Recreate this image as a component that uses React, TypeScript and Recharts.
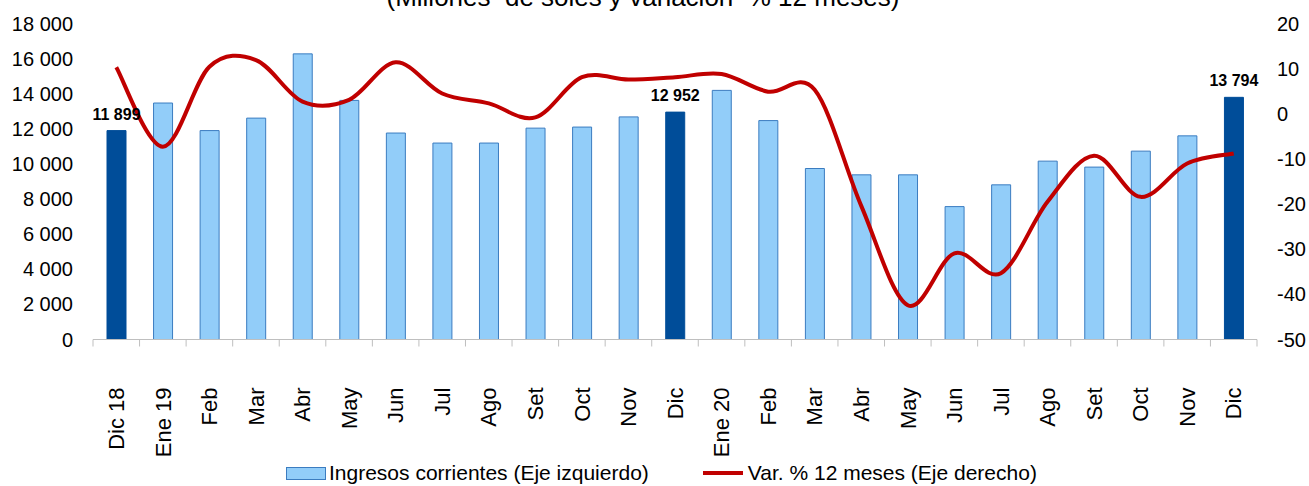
import React from 'react';
import {
  ComposedChart,
  Bar,
  Line,
  XAxis,
  YAxis,
  Cell,
  LabelList,
} from 'recharts';

// Monthly categories
const months = [
  'Dic 18', 'Ene 19', 'Feb', 'Mar', 'Abr', 'May', 'Jun', 'Jul', 'Ago', 'Set', 'Oct', 'Nov', 'Dic',
  'Ene 20', 'Feb', 'Mar', 'Abr', 'May', 'Jun', 'Jul', 'Ago', 'Set', 'Oct', 'Nov', 'Dic',
];

// Ingresos corrientes (millones de soles)
const ingresos = [
  11899, 13470, 11900, 12610, 16270, 13620, 11760, 11190, 11190, 12040, 12100, 12680, 12952,
  14190, 12470, 9740, 9380, 9380, 7570, 8810, 10160, 9820, 10730, 11600, 13794,
];

// Var. % 12 meses
const variacion = [
  10.3, -7.3, 10.4, 11.9, 2.7, 3.1, 11.4, 4.5, 2.3, -0.8, 8.1, 7.6, 8.1,
  8.8, 4.9, 5.3, -20.4, -42.4, -30.9, -35.3, -19.5, -9.3, -18.4, -11.0, -8.8,
];

// bars highlighted in dark blue (December closes)
const highlighted = [0, 12, 24];

const leftTicks = [0, 2000, 4000, 6000, 8000, 10000, 12000, 14000, 16000, 18000];
const rightTicks = [-50, -40, -30, -20, -10, 0, 10, 20];

const FONT = '"Liberation Sans", Arial, sans-serif';
const LIGHT = '#92CDF9';
const LIGHT_BORDER = '#3B7CC0';
const DARK = '#004D99';
const RED = '#C00000';
const AXIS = '#BFBFBF';

const PLOT_LEFT = 93;
const PLOT_RIGHT = 1257;
const PLOT_TOP = 23.5;
const PLOT_BOTTOM = 339.5;
const BAND = (PLOT_RIGHT - PLOT_LEFT) / months.length;

const chartData = months.map((m, i) => ({
  month: m,
  ingresos: ingresos[i],
  variacion: variacion[i],
  label: highlighted.includes(i) ? ingresos[i] : null,
}));

const fmt = (v: number) => String(v).replace(/\B(?=(\d{3})+(?!\d))/g, ' ');

// Excel-style smoothed line (Catmull-Rom through the points)
const smoothCurve = (context: any) => {
  let pts: [number, number][] = [];
  return {
    areaStart() {},
    areaEnd() {},
    lineStart() {
      pts = [];
    },
    point(x: number, y: number) {
      pts.push([+x, +y]);
    },
    lineEnd() {
      if (!pts.length) return;
      context.moveTo(pts[0][0], pts[0][1]);
      for (let i = 0; i < pts.length - 1; i++) {
        const p0 = pts[i - 1] || pts[i];
        const p1 = pts[i];
        const p2 = pts[i + 1];
        const p3 = pts[i + 2] || p2;
        context.bezierCurveTo(
          p1[0] + (p2[0] - p0[0]) / 6,
          p1[1] + (p2[1] - p0[1]) / 6,
          p2[0] - (p3[0] - p1[0]) / 6,
          p2[1] - (p3[1] - p1[1]) / 6,
          p2[0],
          p2[1]
        );
      }
    },
  };
};

const XTick = (props: any) => {
  const { x, index, payload } = props;
  const half = BAND / 2;
  return (
    <g>
      <line x1={x - half} x2={x - half} y1={PLOT_BOTTOM} y2={PLOT_BOTTOM + 7} stroke={AXIS} strokeWidth={1} />
      {index === months.length - 1 && (
        <line x1={x + half} x2={x + half} y1={PLOT_BOTTOM} y2={PLOT_BOTTOM + 7} stroke={AXIS} strokeWidth={1} />
      )}
      <text
        transform={`translate(${x},${PLOT_BOTTOM + 48}) rotate(-90)`}
        textAnchor="end"
        dy="0.35em"
        fontSize={22}
        fontFamily={FONT}
        fill="#000"
      >
        {payload.value}
      </text>
    </g>
  );
};

const renderBarLabel = (props: any) => {
  const { x, y, width, value } = props;
  if (value == null) return null;
  return (
    <text
      x={x + width / 2}
      y={y - 11}
      textAnchor="middle"
      fontSize={16}
      fontWeight="bold"
      fontFamily={FONT}
      fill="#000"
    >
      {fmt(value)}
    </text>
  );
};

export default function App() {
  return (
    <div style={{ position: 'absolute', left: 0, top: 0, width: 1309, height: 486, background: '#fff', overflow: 'hidden', fontFamily: FONT }}>
      <div
        style={{
          position: 'absolute',
          left: 0,
          width: 1286,
          top: -18,
          textAlign: 'center',
          fontSize: 26,
          whiteSpace: 'pre',
          color: '#000',
        }}
      >
        (Millones  de soles y variación  % 12 meses)
      </div>

      <ComposedChart
        width={1309}
        height={486}
        data={chartData}
        margin={{ top: PLOT_TOP, right: 0, left: 0, bottom: 0 }}
        barCategoryGap={0}
      >
        <XAxis
          dataKey="month"
          height={486 - PLOT_BOTTOM}
          interval={0}
          axisLine={{ stroke: AXIS, strokeWidth: 1 }}
          tickLine={false}
          tick={<XTick />}
        />
        <YAxis
          yAxisId="left"
          orientation="left"
          width={PLOT_LEFT}
          domain={[0, 18000]}
          ticks={leftTicks}
          interval={0}
          axisLine={false}
          tickLine={false}
          tickMargin={14}
          tickFormatter={fmt}
          tick={{ fill: '#000', fontSize: 20, fontFamily: FONT }}
        />
        <YAxis
          yAxisId="right"
          orientation="right"
          width={1309 - PLOT_RIGHT}
          domain={[-50, 20]}
          ticks={rightTicks}
          interval={0}
          axisLine={false}
          tickLine={false}
          tickMargin={14}
          tick={{ fill: '#000', fontSize: 20, fontFamily: FONT, textAnchor: 'start' }}
        />
        <Bar
          yAxisId="left"
          dataKey="ingresos"
          barSize={19}
          fill={LIGHT}
          stroke={LIGHT_BORDER}
          strokeWidth={1}
          isAnimationActive={false}
        >
          {chartData.map((d, i) => (
            <Cell
              key={i}
              fill={highlighted.includes(i) ? DARK : LIGHT}
              stroke={highlighted.includes(i) ? DARK : LIGHT_BORDER}
            />
          ))}
          <LabelList dataKey="label" content={renderBarLabel} />
        </Bar>
        <Line
          yAxisId="right"
          dataKey="variacion"
          type={smoothCurve as any}
          stroke={RED}
          strokeWidth={4}
          dot={false}
          activeDot={false}
          isAnimationActive={false}
        />
      </ComposedChart>

      {/* Legend */}
      <div style={{ position: 'absolute', top: 461, left: 286, display: 'flex', alignItems: 'center', fontSize: 21, color: '#000', whiteSpace: 'nowrap' }}>
        <span style={{ display: 'inline-block', width: 38, height: 11, background: LIGHT, border: `1px solid ${LIGHT_BORDER}`, marginRight: 3 }} />
        <span>Ingresos corrientes (Eje izquierdo)</span>
        <span style={{ display: 'inline-block', width: 40, height: 4, background: RED, marginLeft: 54, marginRight: 5 }} />
        <span>Var. % 12 meses (Eje derecho)</span>
      </div>
    </div>
  );
}
